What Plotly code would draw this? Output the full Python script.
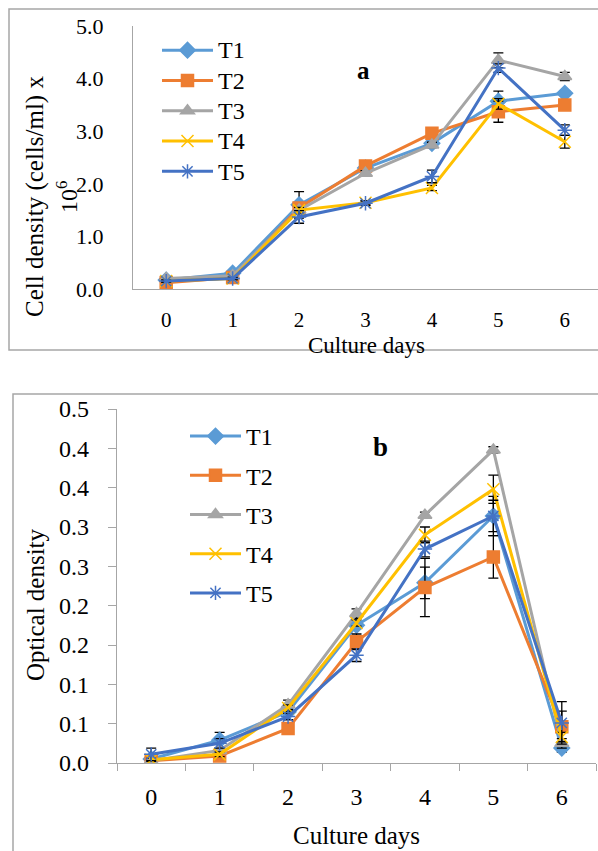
import plotly.graph_objects as go

days = ["0", "1", "2", "3", "4", "5", "6"]
names = ["T1", "T2", "T3", "T4", "T5"]
colors = ["#5B9BD5", "#ED7D31", "#A5A5A5", "#FFC000", "#4472C4"]
symbols = ["diamond", "square", "triangle-up", "x-thin-open", "asterisk-open"]

# Panel a: cell density (cells/ml x 10^6)
cd_T1 = [0.17, 0.30, 1.60, 2.30, 2.77, 3.57, 3.72]
cd_T2 = [0.12, 0.22, 1.54, 2.34, 2.96, 3.37, 3.50]
cd_T3 = [0.20, 0.25, 1.50, 2.20, 2.74, 4.35, 4.04]
cd_T4 = [0.15, 0.20, 1.50, 1.64, 1.92, 3.52, 2.80]
cd_T5 = [0.15, 0.20, 1.37, 1.63, 2.14, 4.20, 3.02]
cd_err_T1 = [0.02, 0.03, 0.25, 0.05, 0.05, 0.19, 0.05]
cd_err_T2 = [0.02, 0.02, 0.05, 0.05, 0.05, 0.20, 0.05]
cd_err_T3 = [0.02, 0.02, 0.05, 0.05, 0.05, 0.14, 0.08]
cd_err_T4 = [0.02, 0.02, 0.05, 0.04, 0.05, 0.10, 0.12]
cd_err_T5 = [0.02, 0.02, 0.12, 0.04, 0.12, 0.08, 0.10]

# Panel b: optical density
od_T1 = [0.005, 0.029, 0.065, 0.175, 0.229, 0.314, 0.019]
od_T2 = [0.003, 0.009, 0.044, 0.154, 0.223, 0.262, 0.046]
od_T3 = [0.003, 0.016, 0.074, 0.190, 0.315, 0.398, 0.025]
od_T4 = [0.004, 0.011, 0.070, 0.178, 0.290, 0.348, 0.033]
od_T5 = [0.011, 0.025, 0.059, 0.137, 0.272, 0.314, 0.051]
od_err_T1 = [0.002, 0.010, 0.004, 0.004, 0.020, 0.025, 0.005]
od_err_T2 = [0.002, 0.003, 0.004, 0.010, 0.037, 0.027, 0.020]
od_err_T3 = [0.002, 0.003, 0.006, 0.006, 0.004, 0.004, 0.006]
od_err_T4 = [0.002, 0.003, 0.004, 0.004, 0.010, 0.018, 0.006]
od_err_T5 = [0.008, 0.006, 0.004, 0.008, 0.010, 0.020, 0.027]

od_tickvals = [0, 0.05, 0.10, 0.15, 0.20, 0.25, 0.30, 0.35, 0.40, 0.45]
od_ticktext = ["0.0", "0.1", "0.1", "0.2", "0.2", "0.3", "0.3", "0.4", "0.4", "0.5"]

cd_series = [cd_T1, cd_T2, cd_T3, cd_T4, cd_T5]
cd_errs = [cd_err_T1, cd_err_T2, cd_err_T3, cd_err_T4, cd_err_T5]
od_series = [od_T1, od_T2, od_T3, od_T4, od_T5]
od_errs = [od_err_T1, od_err_T2, od_err_T3, od_err_T4, od_err_T5]

W, H = 598, 851
FONT = "Liberation Serif, Times New Roman, serif"

def px_x(p):
    return p / W

def px_y(p):
    return 1 - p / H

fig = go.Figure()

for i in range(5):
    fig.add_trace(go.Scatter(
        x=days, y=cd_series[i], xaxis="x", yaxis="y",
        name='<span style="font-size:24px">' + names[i] + "</span>",
        mode="lines+markers", legend="legend",
        line=dict(color=colors[i], width=3),
        marker=dict(symbol=symbols[i], size=12, color=colors[i],
                    line=dict(color=colors[i], width=1.5)),
        error_y=dict(type="data", array=cd_errs[i], color="black", thickness=1.3, width=5),
    ))

for i in range(5):
    fig.add_trace(go.Scatter(
        x=days, y=od_series[i], name=names[i], xaxis="x2", yaxis="y2",
        mode="lines+markers", legend="legend2", legendgroup="b" + names[i],
        line=dict(color=colors[i], width=3),
        marker=dict(symbol=symbols[i], size=12, color=colors[i],
                    line=dict(color=colors[i], width=1.5)),
        error_y=dict(type="data", array=od_errs[i], color="black", thickness=1.3, width=5),
    ))

axis_grey = "#A6A6A6"

def ann(text, x, y, size, angle=0):
    return dict(text=text, x=px_x(x), y=px_y(y), xref="paper", yref="paper",
                xanchor="center", yanchor="middle", showarrow=False,
                textangle=angle, font=dict(size=size, family=FONT, color="black"))

fig.update_layout(
    width=W, height=H, autosize=False,
    margin=dict(l=0, r=0, t=0, b=0, autoexpand=False),
    paper_bgcolor="white", plot_bgcolor="white",
    font=dict(family=FONT, color="black"),
    showlegend=True,
    xaxis=dict(domain=[px_x(133), 1.0], type="category", range=[-0.5, 6.5],
               showline=True, linecolor=axis_grey, linewidth=1.3, ticks="",
               showgrid=False, zeroline=False, anchor="y", automargin=False,
               tickfont=dict(size=21, family=FONT, color="black"), ticklabelstandoff=12),
    yaxis=dict(domain=[px_y(289), px_y(26)], range=[0, 5], dtick=1, tickformat=".1f",
               showline=True, linecolor=axis_grey, linewidth=1.3, ticks="",
               showgrid=False, zeroline=False, anchor="x", automargin=False,
               tickfont=dict(size=22, family=FONT, color="black"), ticklabelstandoff=24),
    xaxis2=dict(domain=[px_x(117), px_x(596)], type="category", range=[-0.5, 6.5],
                tickson="boundaries", ticks="outside", ticklen=7, tickcolor=axis_grey,
                showline=True, linecolor=axis_grey, linewidth=1.3,
                showgrid=False, zeroline=False, anchor="y2", automargin=False,
                tickfont=dict(size=24, family=FONT, color="black"), ticklabelstandoff=12),
    yaxis2=dict(domain=[px_y(763), px_y(409)], range=[0, 0.45],
                tickvals=od_tickvals, ticktext=od_ticktext,
                ticks="outside", ticklen=8, tickcolor=axis_grey,
                showline=True, linecolor=axis_grey, linewidth=1.3,
                showgrid=False, zeroline=False, anchor="x2", automargin=False,
                tickfont=dict(size=24, family=FONT, color="black"), ticklabelstandoff=14),
    legend=dict(x=px_x(157), y=px_y(30), xanchor="left", yanchor="top",
                bgcolor="rgba(0,0,0,0)", font=dict(size=21, family=FONT, color="black"),
                itemwidth=51, traceorder="normal"),
    legend2=dict(x=px_x(185), y=px_y(414), xanchor="left", yanchor="top",
                 bgcolor="rgba(0,0,0,0)", font=dict(size=24, family=FONT, color="black"),
                 itemwidth=51, tracegroupgap=5, traceorder="grouped"),
    shapes=[
        dict(type="rect", xref="paper", yref="paper",
             x0=px_x(9), x1=1.02, y0=px_y(350), y1=px_y(9),
             line=dict(color="#A6A6A6", width=1.5), fillcolor="rgba(0,0,0,0)", layer="below"),
        dict(type="rect", xref="paper", yref="paper",
             x0=px_x(13), x1=1.02, y0=-0.02, y1=px_y(394),
             line=dict(color="#A6A6A6", width=1.5), fillcolor="rgba(0,0,0,0)", layer="below"),
    ],
    annotations=[
        ann("Cell density (cells/ml) x", 35, 197, 25, -90),
        ann("10<sup>6</sup>", 67, 197, 24, -90),
        ann("Culture days", 366, 345, 23),
        ann("<b>a</b>", 363, 70, 25),
        ann("Optical density", 35, 605, 25, -90),
        ann("Culture days", 356, 835, 25),
        ann("<b>b</b>", 380, 447, 27),
    ],
)

fig.write_html("out.html", config={"displayModeBar": False},
               post_script="document.body.style.margin='0';")
